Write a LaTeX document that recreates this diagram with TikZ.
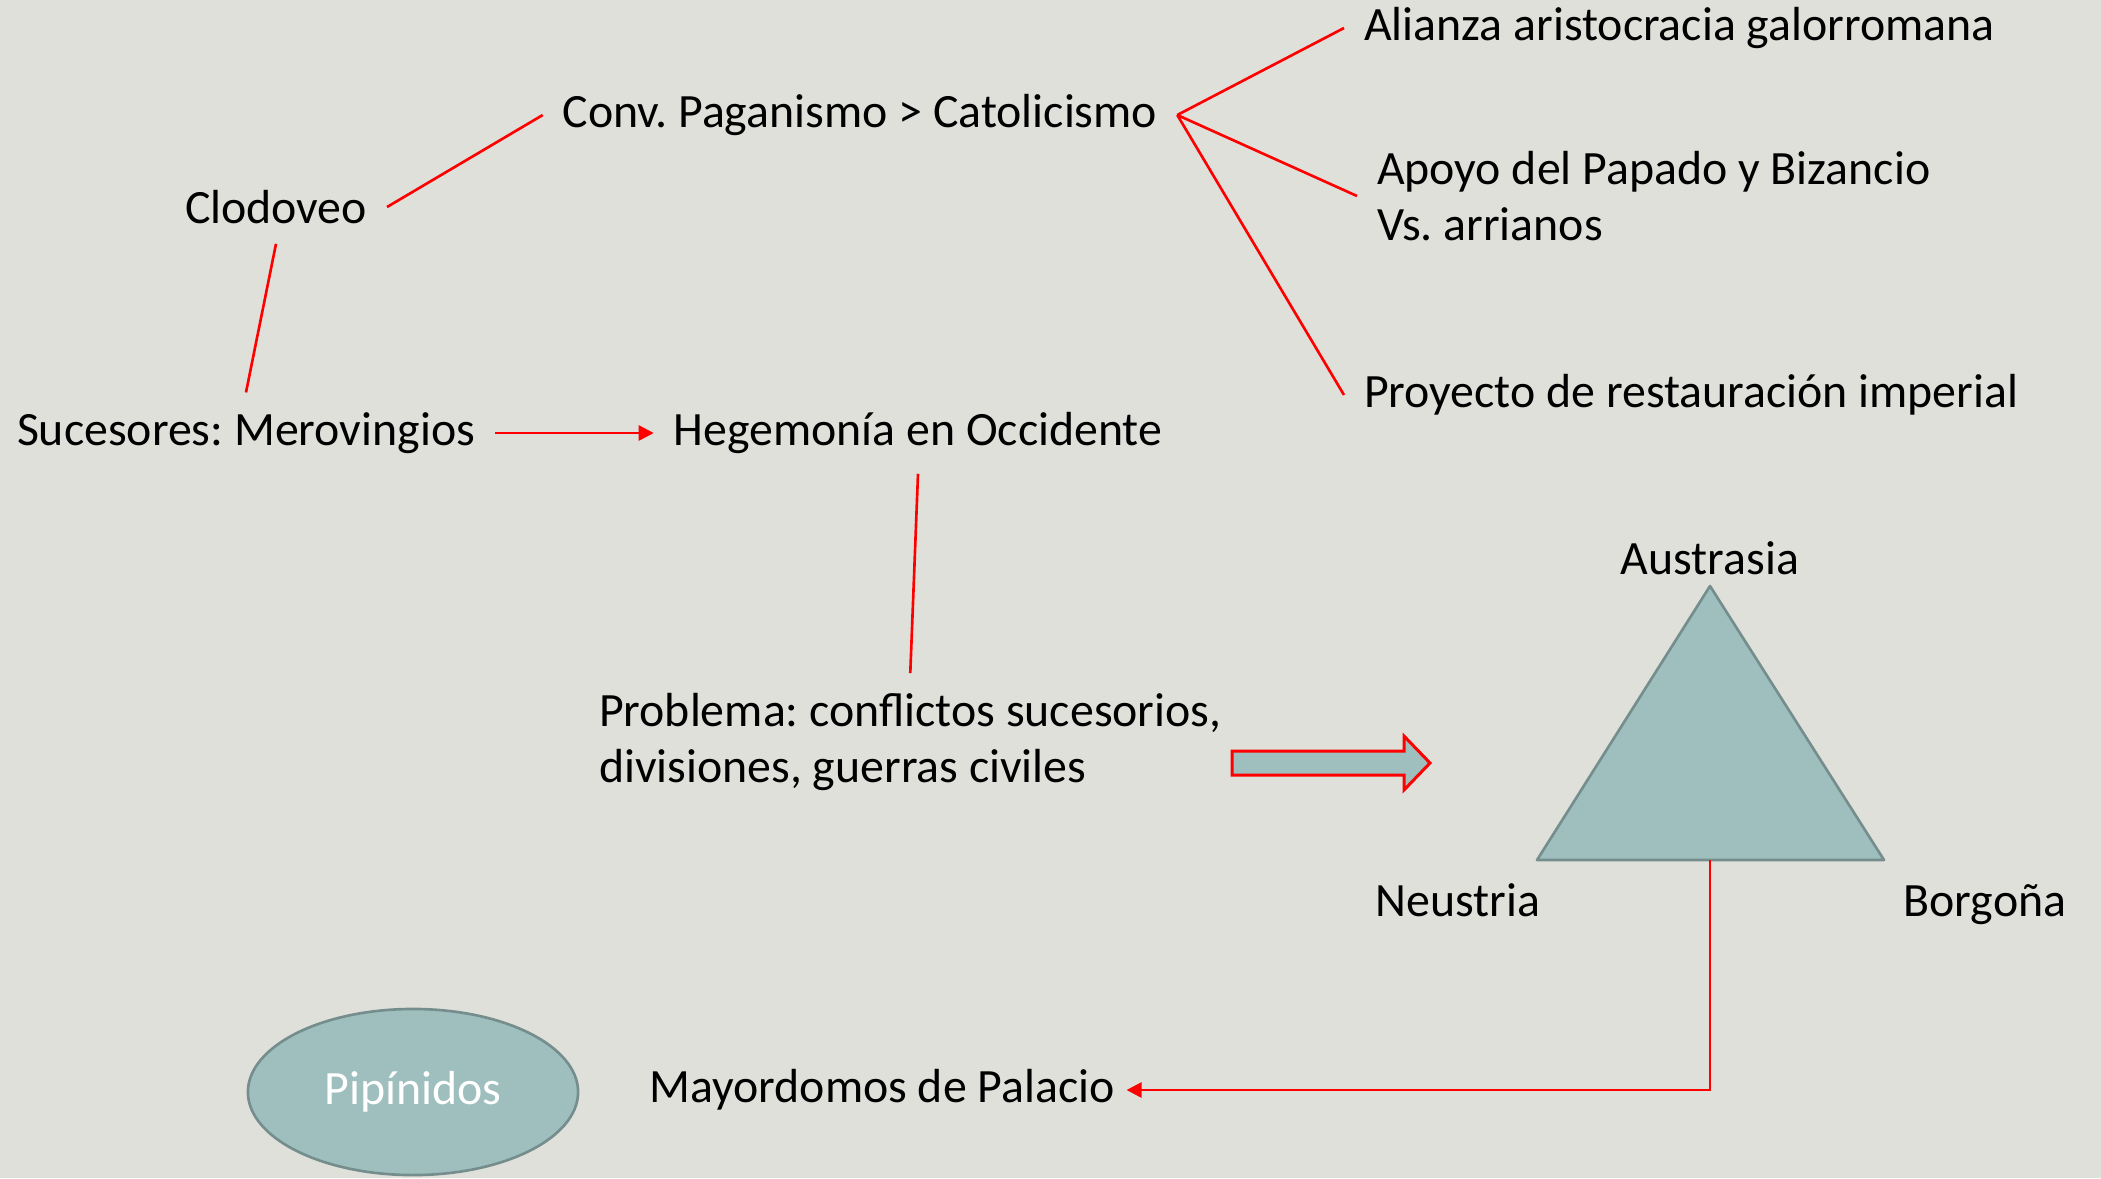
\documentclass[tikz,border=0pt]{standalone}
\usepackage{fontspec}
\setmainfont{Carlito}
\frenchspacing
\usetikzlibrary{arrows.meta,shapes.geometric}
\definecolor{fondo}{RGB}{224,224,218}
\definecolor{verde}{RGB}{158,191,190}
\definecolor{borde}{RGB}{117,142,141}
\tikzset{
	texto/.style={inner sep=5.5pt,font=\fontsize{13.6}{16}\selectfont},
	linea/.style={red,line width=0.75pt},
	flechita/.style={linea,-{Triangle[length=4.3pt,width=4.3pt]}},
	forma/.style={draw=borde,fill=verde,line width=0.75pt,line join=round},
}

\begin{document}
\begin{tikzpicture}[x=0.01cm,y=-0.01cm]
	\fill[fondo] (0,0) rectangle (2101,1178);
	\useasboundingbox (0,0) rectangle (2101,1178);
	% textos
	\node[texto] (clodoveo) at (276,207) {Clodoveo};
	\node[texto] (conv) at (860,115) {Conv. Paganismo > Catolicismo};
	\node[texto,anchor=west] (alianza) at (1344,28) {Alianza aristocracia galorromana};
	\node[texto,anchor=west,align=left] (apoyo) at (1357,196) {Apoyo del Papado y Bizancio\\Vs. arrianos};
	\node[texto,anchor=west] (proyecto) at (1344,395) {Proyecto de restauración imperial};
	\node[texto] (sucesores) at (246,433) {Sucesores: Merovingios};
	\node[texto] (hegemonia) at (918,433) {Hegemonía en Occidente};
	\node[texto,anchor=west,align=left] (problema) at (579,742) {Problema: conflictos sucesorios,\\divisiones, guerras civiles};
	\node[texto] (austrasia) at (1710,558) {Austrasia};
	\node[texto] (neustria) at (1458,900) {Neustria};
	\node[texto] (borgona) at (1985,905) {Borgoña};
	\node[texto] (mayordomos) at (882,1090) {Mayordomos de Palacio};
	\node[forma,ellipse,minimum width=3.3cm,minimum height=1.66cm,text=white,
		font=\fontsize{13.6}{16}\selectfont] (pipinidos) at (413,1092) {Pipínidos};
	% conectores
	\draw[linea] (clodoveo.east) -- (conv.west);
	\draw[linea] (clodoveo.south) -- (sucesores.north);
	\draw[flechita] (sucesores.east) -- (hegemonia.west);
	\foreach \n in {alianza,apoyo,proyecto}{
		\draw[linea] (conv.east) -- (\n.west);}
	\draw[linea] (hegemonia.south) -- (problema.north);
	% flecha gruesa
	\draw[red,fill=verde,line width=0.85pt] (1232,751) -- (1404,751) -- (1404,736)
		-- (1430,763) -- (1404,790) -- (1404,775) -- (1232,775) -- cycle;
	% triangulo
	\draw[forma] (1710,586) coordinate (aus) -- (1884,860) coordinate (bor)
		-- (1537,860) coordinate (neu) -- cycle;
	\coordinate (base) at (1710,860);
	\draw[flechita,shorten >=-2.3pt] (base) |- (mayordomos.east);
\end{tikzpicture}
\end{document}
